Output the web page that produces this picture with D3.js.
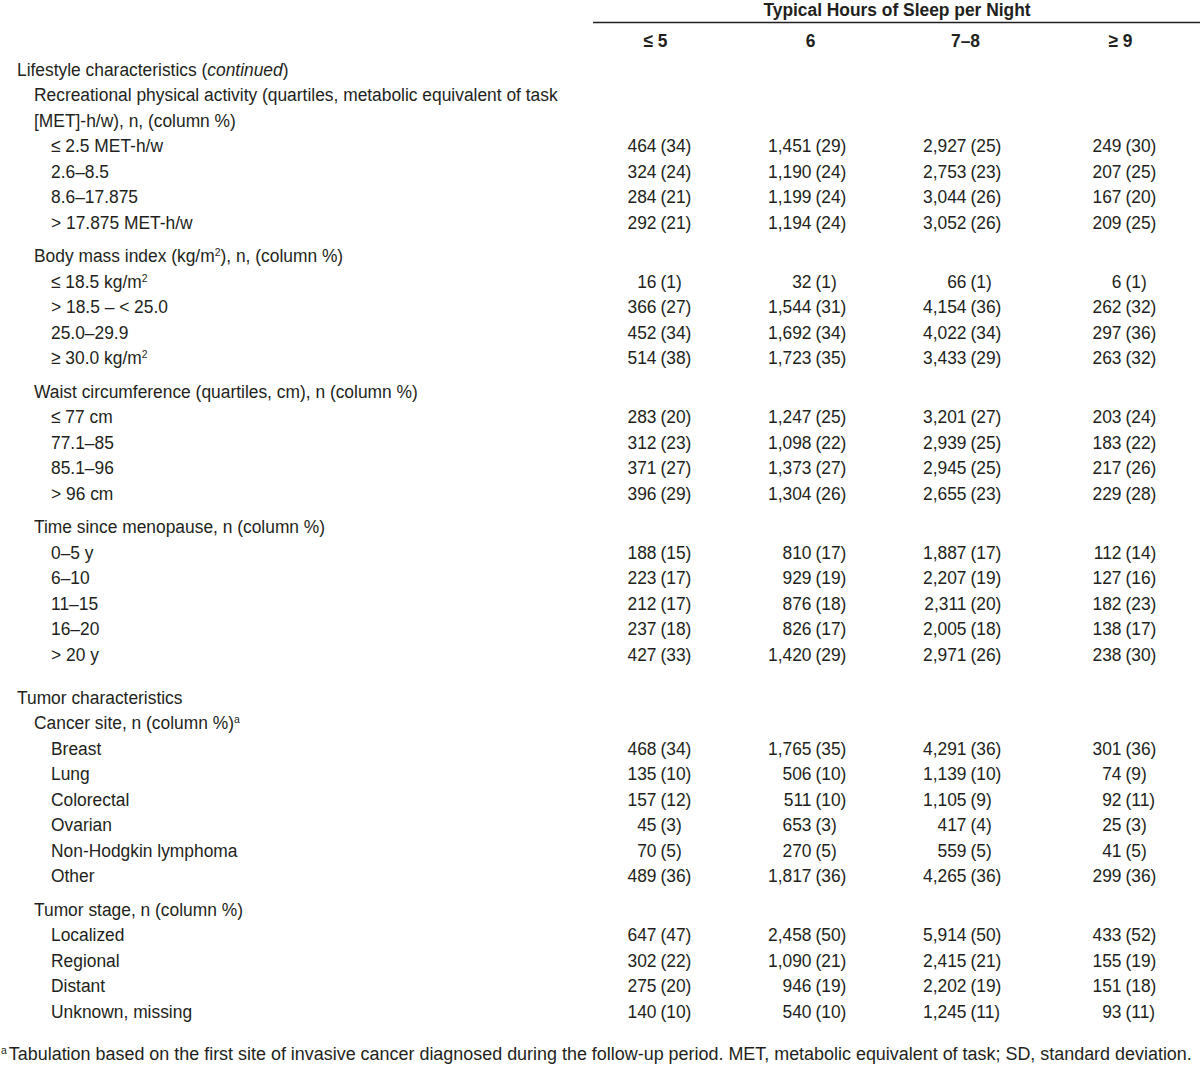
<!DOCTYPE html>
<html>
<head>
<meta charset="utf-8">
<script src="https://cdn.jsdelivr.net/npm/d3@7"></script>
<style>
  html, body { margin: 0; padding: 0; background: #fff; }
  svg text { font-family: "Liberation Sans", Arimo, Arial, sans-serif; fill: #231f20; }
</style>
</head>
<body>
<svg id="table" width="1200" height="1071"></svg>
<script>
// column headers
var spanTitle = 'Typical Hours of Sleep per Night';
var sleepGroups = ['≤ 5', '6', '7–8', '≥ 9'];

// row labels, indent level (0 = section, 1 = variable, 2 = category)
var rowLabels = [
    'Lifestyle characteristics (<i>continued</i>)',
    'Recreational physical activity (quartiles, metabolic equivalent of task',
    '[MET]-h/w), n, (column %)',
    '≤ 2.5 MET-h/w', '2.6–8.5', '8.6–17.875', '> 17.875 MET-h/w',
    'Body mass index (kg/m<sup>2</sup>), n, (column %)',
    '≤ 18.5 kg/m<sup>2</sup>', '> 18.5 – < 25.0', '25.0–29.9', '≥ 30.0 kg/m<sup>2</sup>',
    'Waist circumference (quartiles, cm), n (column %)',
    '≤ 77 cm', '77.1–85', '85.1–96', '> 96 cm',
    'Time since menopause, n (column %)',
    '0–5 y', '6–10', '11–15', '16–20', '> 20 y',
    'Tumor characteristics',
    'Cancer site, n (column %)<sup>a</sup>',
    'Breast', 'Lung', 'Colorectal', 'Ovarian', 'Non-Hodgkin lymphoma', 'Other',
    'Tumor stage, n (column %)',
    'Localized', 'Regional', 'Distant', 'Unknown, missing'
];
var rowLevels = [0, 1, 1, 2, 2, 2, 2, 1, 2, 2, 2, 2, 1, 2, 2, 2, 2, 1, 2, 2, 2, 2, 2,
    0, 1, 2, 2, 2, 2, 2, 2, 1, 2, 2, 2, 2];
// which label rows carry data (index into rowLabels)
var dataRows = [3, 4, 5, 6, 8, 9, 10, 11, 13, 14, 15, 16, 18, 19, 20, 21, 22,
    25, 26, 27, 28, 29, 30, 32, 33, 34, 35];

// counts and column % per sleep group, in dataRows order
var nLe5 = [464, 324, 284, 292, 16, 366, 452, 514, 283, 312, 371, 396, 188, 223, 212, 237, 427,
    468, 135, 157, 45, 70, 489, 647, 302, 275, 140];
var pLe5 = [34, 24, 21, 21, 1, 27, 34, 38, 20, 23, 27, 29, 15, 17, 17, 18, 33,
    34, 10, 12, 3, 5, 36, 47, 22, 20, 10];
var n6 = [1451, 1190, 1199, 1194, 32, 1544, 1692, 1723, 1247, 1098, 1373, 1304, 810, 929, 876, 826, 1420,
    1765, 506, 511, 653, 270, 1817, 2458, 1090, 946, 540];
var p6 = [29, 24, 24, 24, 1, 31, 34, 35, 25, 22, 27, 26, 17, 19, 18, 17, 29,
    35, 10, 10, 3, 5, 36, 50, 21, 19, 10];
var n78 = [2927, 2753, 3044, 3052, 66, 4154, 4022, 3433, 3201, 2939, 2945, 2655, 1887, 2207, 2311, 2005, 2971,
    4291, 1139, 1105, 417, 559, 4265, 5914, 2415, 2202, 1245];
var p78 = [25, 23, 26, 26, 1, 36, 34, 29, 27, 25, 25, 23, 17, 19, 20, 18, 26,
    36, 10, 9, 4, 5, 36, 50, 21, 19, 11];
var nGe9 = [249, 207, 167, 209, 6, 262, 297, 263, 203, 183, 217, 229, 112, 127, 182, 138, 238,
    301, 74, 92, 25, 41, 299, 433, 155, 151, 93];
var pGe9 = [30, 25, 20, 25, 1, 32, 36, 32, 24, 22, 26, 28, 14, 16, 23, 17, 30,
    36, 9, 11, 3, 5, 36, 52, 19, 18, 11];

var footnote = 'Tabulation based on the first site of invasive cancer diagnosed during the follow-up period. MET, metabolic equivalent of task; SD, standard deviation.';

(function () {
    'use strict';
    var svg = d3.select('#table');
    var fmt = d3.format(',');
    var fontSize = 19;
    var pitch = 25.5;

    var columns = [
        {n: nLe5, p: pLe5},
        {n: n6, p: p6},
        {n: n78, p: p78},
        {n: nGe9, p: pGe9}
    ];

    // no narrow face installed, so squeeze a regular one: the long label line
    // should run from x=34 to about x=558
    var probe = svg.append('text').style('font-size', fontSize + 'px').text(rowLabels[1]);
    var kx = 524 / probe.node().getComputedTextLength();
    probe.remove();
    function sx(v) { return v / kx; }

    /* x: band per sleep group, label indent per level */
    var x = d3.scaleBand().domain(sleepGroups).range([578, 1198]);
    var indent = d3.scaleLinear().domain([0, 2]).range([17, 51]);

    /* y: row index -> position, with extra space before variable / section headers */
    var rowY = [];
    var offset = 0;
    rowLabels.forEach(function (lab, i) {
        if (i > 0 && rowLevels[i] == 0) offset += 17.5;
        else if (i > 0 && rowLevels[i] == 1 && rowLevels[i - 1] == 2) offset += 8;
        rowY.push(i * pitch + offset);
    });
    var y = d3.scaleLinear().domain([0, 1]).range([69, 70]);

    // turn the little bits of markup into tspans
    function richText(sel, html) {
        var parts = html.split(/(<i>.*?<\/i>|<sup>.*?<\/sup>)/);
        var lift = null;
        parts.forEach(function (part) {
            if (!part) return;
            var t;
            if (part.indexOf('<i>') == 0) {
                t = sel.append('tspan').style('font-style', 'italic').text(part.replace(/<\/?i>/g, ''));
            } else if (part.indexOf('<sup>') == 0) {
                sel.append('tspan').attr('dy', '-0.5em').style('font-size', '0.6em')
                    .text(part.replace(/<\/?sup>/g, ''));
                lift = '0.3em';
                return;
            } else {
                t = sel.append('tspan').text(part);
            }
            if (lift) { t.attr('dy', lift); lift = null; }
        });
    }

    var g = svg.append('g').attr('transform', 'scale(' + kx + ',1)');

    /* header */
    g.append('text')
        .attr('x', sx(897))
        .attr('y', 9.5)
        .attr('dy', '0.35em')
        .attr('text-anchor', 'middle')
        .style('font-size', fontSize + 'px')
        .style('font-weight', 'bold')
        .text(spanTitle);

    svg.append('line')
        .attr('x1', 593).attr('x2', 1200)
        .attr('y1', 22.5).attr('y2', 22.5)
        .attr('stroke', '#231f20')
        .attr('stroke-width', 1.5);

    g.selectAll('text.col-head')
        .data(sleepGroups)
        .enter().append('text')
        .attr('class', 'col-head')
        .attr('x', function (d) { return sx(x(d) + x.bandwidth() / 2); })
        .attr('y', 40)
        .attr('dy', '0.35em')
        .attr('text-anchor', 'middle')
        .style('font-size', fontSize + 'px')
        .style('font-weight', 'bold')
        .text(function (d) { return d; });

    /* row labels */
    g.selectAll('text.row-label')
        .data(rowLabels)
        .enter().append('text')
        .attr('class', 'row-label')
        .attr('x', function (d, i) { return sx(indent(rowLevels[i])); })
        .attr('y', function (d, i) { return y(rowY[i]); })
        .attr('dy', '0.35em')
        .style('font-size', fontSize + 'px')
        .each(function (d) { richText(d3.select(this), d); });

    /* cells: count right aligned on the column centre, (%) left aligned after it */
    columns.forEach(function (col, c) {
        var cx = x(sleepGroups[c]) + x.bandwidth() / 2 + 1;
        var cg = g.append('g').attr('class', 'col-' + c);

        cg.selectAll('text.n')
            .data(col.n)
            .enter().append('text')
            .attr('class', 'n')
            .attr('x', sx(cx))
            .attr('y', function (d, i) { return y(rowY[dataRows[i]]); })
            .attr('dy', '0.35em')
            .attr('text-anchor', 'end')
            .style('font-size', fontSize + 'px')
            .text(function (d) { return fmt(d); });

        cg.selectAll('text.p')
            .data(col.p)
            .enter().append('text')
            .attr('class', 'p')
            .attr('x', sx(cx + 4))
            .attr('y', function (d, i) { return y(rowY[dataRows[i]]); })
            .attr('dy', '0.35em')
            .style('font-size', fontSize + 'px')
            .text(function (d) { return '(' + d + ')'; });
    });

    /* footnote */
    var fn = g.append('text')
        .attr('x', sx(1))
        .attr('y', 1060)
        .attr('dy', '0.35em')
        .style('font-size', fontSize + 'px');
    fn.append('tspan').attr('dy', '-0.5em').style('font-size', '0.6em').text('a');
    fn.append('tspan').attr('dy', '0.3em').attr('dx', sx(2))
        .attr('textLength', sx(1183))
        .attr('lengthAdjust', 'spacingAndGlyphs')
        .text(footnote);
})();
</script>
</body>
</html>
